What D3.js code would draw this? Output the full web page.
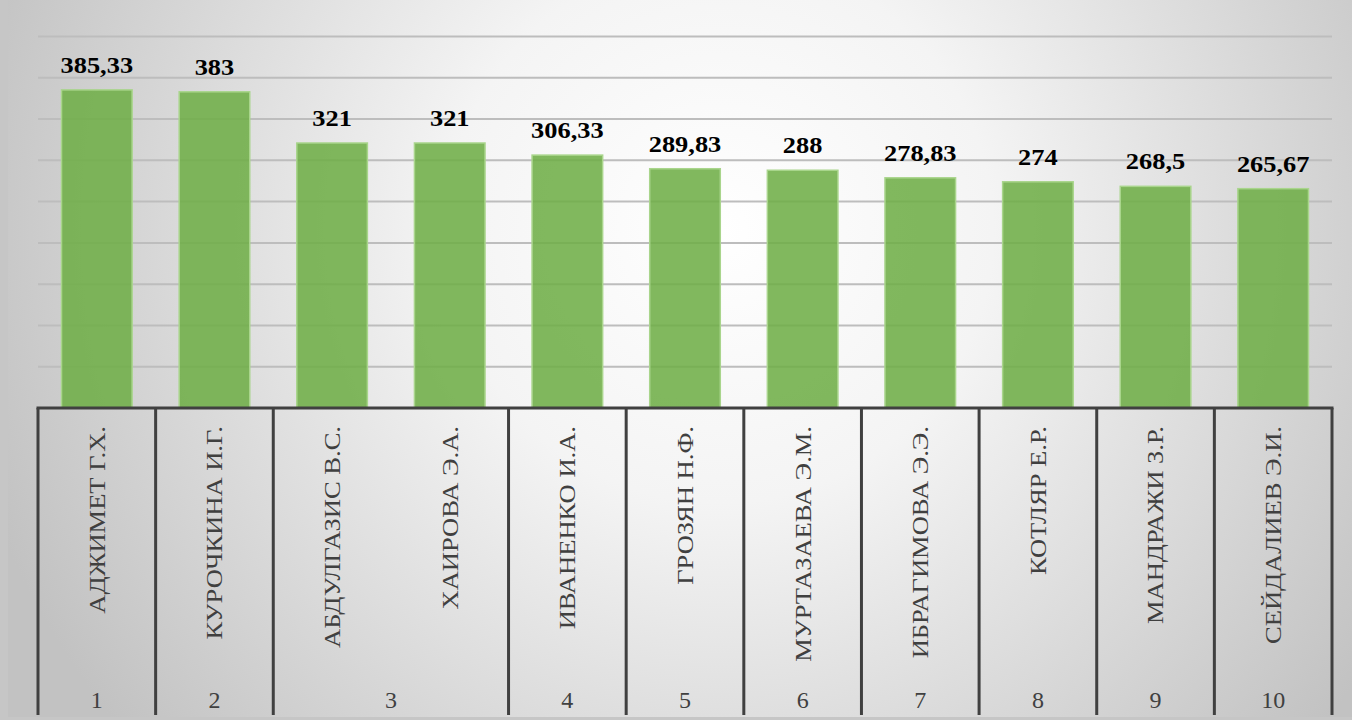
<!DOCTYPE html>
<html>
<head>
<meta charset="utf-8">
<script src="https://cdn.jsdelivr.net/npm/d3@7"></script>
<style>
  body { margin: 0; background: #c6c6c6; }
  svg { display: block; }
  svg text { font-family: "Liberation Serif", Tinos, "Times New Roman", Times, "DejaVu Serif", serif; }
</style>
</head>
<body>
<div id="chart"></div>
<script>
// values
const names = [
  "АДЖИМЕТ Г.Х.", "КУРОЧКИНА И.Г.", "АБДУЛГАЗИС В.С.", "ХАИРОВА Э.А.",
  "ИВАНЕНКО И.А.", "ГРОЗЯН Н.Ф.", "МУРТАЗАЕВА Э.М.", "ИБРАГИМОВА Э.Э.",
  "КОТЛЯР Е.Р.", "МАНДРАЖИ З.Р.", "СЕЙДАЛИЕВ Э.И."
];
const ranks = ["1", "2", "3", "3", "4", "5", "6", "7", "8", "9", "10"];
const scores = [385.33, 383, 321, 321, 306.33, 289.83, 288, 278.83, 274, 268.5, 265.67];
const gridTicks = [50, 100, 150, 200, 250, 300, 350, 400, 450];

const config = {
  width: 1352,
  height: 720,
  plotLeft: 38,
  plotRight: 1332,
  plotTop: 36.5,
  baseline: 408,
  tableBottom: 715
};

const svg = d3.select("#chart")
  .append("svg")
  .attr("width", config.width)
  .attr("height", config.height);

// background with a soft radial glow
const defs = svg.append("defs");
const grad = defs.append("radialGradient")
  .attr("id", "bg")
  .attr("gradientUnits", "userSpaceOnUse")
  .attr("cx", 720).attr("cy", 230).attr("r", 780);
grad.append("stop").attr("offset", 0).attr("stop-color", "#ffffff");
grad.append("stop").attr("offset", 0.35).attr("stop-color", "#f4f4f4");
grad.append("stop").attr("offset", 1).attr("stop-color", "#c2c2c2");

svg.append("rect")
  .attr("width", config.width)
  .attr("height", config.height)
  .attr("fill", "#c6c6c6");
svg.append("rect")
  .attr("x", 8)
  .attr("width", config.width - 8)
  .attr("height", 717)
  .attr("fill", "url(#bg)");

// scales
const x = d3.scaleBand()
  .domain(names)
  .range([config.plotLeft, config.plotRight])
  .paddingInner(0.4)
  .paddingOuter(0.2);

const y = d3.scaleLinear()
  .domain([0, 450])
  .range([config.baseline, config.plotTop]);

// horizontal gridlines
svg.append("g")
  .selectAll("line")
  .data(gridTicks)
  .join("line")
  .attr("x1", config.plotLeft)
  .attr("x2", config.plotRight)
  .attr("y1", (d) => y(d))
  .attr("y2", (d) => y(d))
  .attr("stroke", "#bdbdbd")
  .attr("stroke-width", 2);

// bars
svg.append("g")
  .selectAll("rect")
  .data(scores)
  .join("rect")
  .attr("x", (d, i) => x(names[i]))
  .attr("y", (d) => y(d))
  .attr("width", x.bandwidth())
  .attr("height", (d) => y(0) - y(d))
  .attr("fill", "#6fae48")
  .attr("fill-opacity", 0.88)
  .attr("stroke", "#a9d58c")
  .attr("stroke-width", 1.5);

// value labels (slightly widened, like the original)
svg.append("g")
  .selectAll("text")
  .data(scores)
  .join("text")
  .attr("transform", (d, i) =>
    `translate(${x(names[i]) + x.bandwidth() / 2},${y(d) - 17}) scale(1.1,1)`)
  .attr("text-anchor", "middle")
  .attr("font-weight", "bold")
  .attr("font-size", 24)
  .attr("fill", "#000")
  .text((d) => String(d).replace(".", ","));

// category table below the axis
const step = x.step();
const edge = (name) => x(name) - (step - x.bandwidth()) / 2;

const groups = [];
ranks.forEach((r, i) => {
  const last = groups[groups.length - 1];
  if (last && last.rank === r) {
    last.x1 = edge(names[i]) + step;
  } else {
    groups.push({ rank: r, x0: edge(names[i]), x1: edge(names[i]) + step });
  }
});

const bounds = groups.map((g) => g.x0).concat([groups[groups.length - 1].x1]);

svg.append("g")
  .selectAll("line")
  .data(bounds)
  .join("line")
  .attr("x1", (d) => d)
  .attr("x2", (d) => d)
  .attr("y1", config.baseline)
  .attr("y2", config.tableBottom)
  .attr("stroke", "#404040")
  .attr("stroke-width", 3);

// axis baseline
svg.append("line")
  .attr("x1", config.plotLeft - 1.5)
  .attr("x2", config.plotRight + 1.5)
  .attr("y1", config.baseline)
  .attr("y2", config.baseline)
  .attr("stroke", "#404040")
  .attr("stroke-width", 3);

// rotated names, stretched along the reading direction
svg.append("g")
  .selectAll("text")
  .data(names)
  .join("text")
  .attr("transform", (d) => `translate(${x(d) + x.bandwidth() / 2},426) rotate(-90) scale(1.18,1)`)
  .attr("text-anchor", "end")
  .attr("dy", "0.35em")
  .attr("font-size", 22.5)
  .attr("fill", "#404040")
  .text((d) => d);

// rank numbers
svg.append("g")
  .selectAll("text")
  .data(groups)
  .join("text")
  .attr("x", (d) => (d.x0 + d.x1) / 2)
  .attr("y", 708)
  .attr("text-anchor", "middle")
  .attr("font-size", 24)
  .attr("fill", "#404040")
  .text((d) => d.rank);
</script>
</body>
</html>
